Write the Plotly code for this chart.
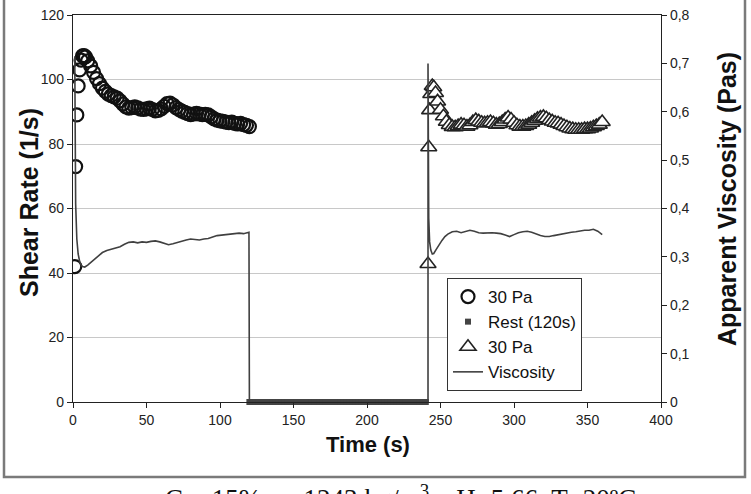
import plotly.graph_objects as go

# ---- data ----
circ_time = [1.2, 1.8, 2.6, 3.5, 4.5, 5.5, 6.5, 7.5, 8.5,
             10, 12, 14, 16, 18, 20, 22, 24, 26, 28,
             30, 32, 34, 36, 38, 40, 42, 44, 46, 48,
             50, 52, 54, 56, 58, 60, 62, 64, 66, 68,
             70, 72, 74, 76, 78, 80, 82, 84, 86, 88,
             90, 92, 94, 96, 98, 100, 102, 104, 106, 108,
             110, 112, 114, 116, 118, 120]
circ_rate = [42, 73, 89, 98, 103, 106, 107.3, 107.4, 107,
             105.8, 104.2, 102.2, 100.3, 98.7, 97.3, 96.3, 95.5, 95, 94.6,
             94.2, 93.4, 92.4, 91.5, 91.1, 91.3, 91.5, 91.2, 90.8, 90.7,
             90.9, 91.1, 90.7, 90.3, 90.4, 90.9, 91.7, 92.5, 92.7, 92.1,
             91.3, 90.7, 90.2, 89.8, 89.4, 89.1, 89.3, 89.5, 89.3, 89.1,
             89.2, 89.0, 88.4, 87.8, 87.4, 87.2, 87.0, 86.8, 86.6, 86.8,
             86.4, 86.2, 86.4, 86.0, 85.8, 85.4]

rest_time = list(range(120, 242, 2))
rest_rate = [0] * len(rest_time)

tri_time = [241.5, 242, 242.6, 243.4, 244.4, 245.4, 246.6, 248,
            250, 252, 254, 256, 258, 260, 262, 264, 266, 268,
            270, 272, 274, 276, 278, 280, 282, 284, 286, 288,
            290, 292, 294, 296, 298, 300, 302, 304, 306, 308,
            310, 312, 314, 316, 318, 320, 322, 324, 326, 328,
            330, 332, 334, 336, 338, 340, 342, 344, 346, 348,
            350, 352, 354, 356, 358, 360]
tri_rate = [42.8, 79, 90.5, 95.5, 98, 97.6, 95.8, 93.2,
            90.6, 88.6, 86.9, 85.9, 85.3, 85.2, 85.6, 86.0, 85.8, 85.4,
            85.8, 86.8, 87.4, 87.0, 86.6, 86.4, 86.6, 86.8, 86.4, 86.0,
            86.2, 86.8, 87.6, 88.2, 87.6, 86.6, 85.8, 85.4, 85.4, 85.6,
            86.0, 86.6, 87.2, 87.8, 88.2, 88.4, 88.0, 87.4, 87.0, 86.6,
            86.4, 86.0, 85.6, 85.2, 84.8, 84.6, 84.4, 84.4, 84.4, 84.6,
            84.6, 84.8, 85.2, 85.6, 86.0, 86.8]

visc_time = [1.2, 1.8, 2.6, 3.5, 4.5, 5.5, 6.5, 8, 10, 12, 14, 16, 18, 20,
             23, 26, 29, 32, 35, 38, 41, 44, 47, 50, 53, 56, 59, 62, 65, 68,
             71, 74, 77, 80, 83, 86, 89, 92, 95, 98, 101, 104, 107, 110, 113,
             116, 119.7, 120, 241.5,
             241.5, 242, 242.6, 243.4, 244.4, 245.4, 247, 249, 251, 253, 255,
             258, 261, 264, 267, 270, 273, 276, 279, 282, 285, 288, 291, 294,
             297, 300, 303, 306, 309, 312, 315, 318, 321, 324, 327, 330, 333,
             336, 339, 342, 345, 348, 351, 354, 357, 360]
visc_val = [0.714, 0.41, 0.337, 0.306, 0.291, 0.283, 0.280, 0.279, 0.283, 0.288,
            0.294, 0.299, 0.305, 0.309,
            0.313, 0.316, 0.318, 0.321, 0.326, 0.330, 0.331, 0.329, 0.331, 0.330,
            0.332, 0.333, 0.331, 0.328, 0.325, 0.327,
            0.330, 0.333, 0.335, 0.337, 0.336, 0.335, 0.337, 0.338, 0.341, 0.344,
            0.345, 0.346, 0.346, 0.347, 0.349,
            0.348, 0.351, 0.0, 0.0,
            0.70, 0.38, 0.331, 0.314, 0.306, 0.307, 0.315, 0.325, 0.334, 0.342, 0.347,
            0.352, 0.353, 0.350, 0.352, 0.355, 0.353, 0.350, 0.349, 0.350, 0.350,
            0.349, 0.348, 0.345,
            0.342, 0.346, 0.350, 0.352, 0.353, 0.351, 0.347, 0.344, 0.342, 0.342,
            0.344, 0.346, 0.347,
            0.349, 0.351, 0.352, 0.354, 0.355, 0.355, 0.357, 0.353, 0.346]

left_ticks = [0, 20, 40, 60, 80, 100, 120]
right_ticks = [0, 0.1, 0.2, 0.3, 0.4, 0.5, 0.6, 0.7, 0.8]
x_ticks = [0, 50, 100, 150, 200, 250, 300, 350, 400]

caption = "Cv=15%, ρ=1243 kg/m<sup>3</sup>, pH=5.66, T=20ºC"

# ---- figure ----
FONT = "Liberation Sans, Arial, sans-serif"
fig = go.Figure()

fig.add_trace(go.Scatter(
    x=circ_time, y=circ_rate, mode="markers", name="30 Pa",
    marker=dict(symbol="circle-open", size=13, color="#111111",
                line=dict(color="#111111", width=2.2))))
fig.add_trace(go.Scatter(
    x=rest_time, y=rest_rate, mode="markers", name="Rest (120s)",
    marker=dict(symbol="square", size=6, color="#444444",
                line=dict(width=0)), cliponaxis=False))
fig.add_trace(go.Scatter(
    x=tri_time, y=tri_rate, mode="markers", name="30 Pa",
    marker=dict(symbol="triangle-up", size=14, color="white",
                line=dict(color="#222222", width=1.6))))
fig.add_trace(go.Scatter(
    x=visc_time, y=visc_val, mode="lines", name="Viscosity", yaxis="y2",
    line=dict(color="#404040", width=1.6)))

W, H = 751, 494
L, R, T, B = 73, 661, 15, 402
pw, ph = R - L, B - T


def px(x):
    return (x - L) / pw


def py(y):
    return (B - y) / ph


fig.update_layout(
    width=W, height=H,
    margin=dict(l=L, r=W - R, t=T, b=H - B, autoexpand=False),
    paper_bgcolor="white", plot_bgcolor="white",
    separators=",.",
    showlegend=True,
    font=dict(family=FONT, color="#111111"),
    xaxis=dict(range=[0, 400], tickvals=x_ticks, ticks="outside", ticklen=5,
               tickcolor="#222222", showline=True, linecolor="#222222",
               linewidth=1.3, mirror=True, showgrid=False, zeroline=False,
               automargin=False,
               tickfont=dict(size=14, color="#222222")),
    yaxis=dict(range=[0, 120], tickvals=left_ticks, ticks="outside", ticklen=5,
               tickcolor="#222222", showline=True, linecolor="#222222",
               linewidth=1.3, showgrid=True, gridcolor="#c8c8c8", gridwidth=1,
               zeroline=False, automargin=False,
               tickfont=dict(size=14, color="#222222")),
    yaxis2=dict(range=[0, 0.8], tickvals=right_ticks, overlaying="y", side="right",
                ticks="outside", ticklen=5, tickcolor="#222222", showline=True,
                linecolor="#222222", linewidth=1.3, showgrid=False, zeroline=False,
                tickformat=".1~f", automargin=False,
                tickfont=dict(size=14, color="#222222")),
    legend=dict(x=px(447), y=py(278), xanchor="left", yanchor="top",
                bgcolor="white", bordercolor="#333333", borderwidth=1,
                font=dict(size=17, color="#111111"), tracegroupgap=0,
                itemwidth=30),
    shapes=[
        dict(type="line", xref="paper", yref="y", x0=0, x1=1, y0=20, y1=20,
             line=dict(color="#222222", width=1.2), layer="below"),
        dict(type="rect", xref="paper", yref="paper",
             x0=px(4), x1=px(745), y0=py(477), y1=py(-3),
             line=dict(color="#7a7a7a", width=2.5), layer="below"),
    ],
    annotations=[
        dict(text="<b>Time (s)</b>", xref="paper", yref="paper", x=px(368), y=py(444),
             xanchor="center", yanchor="middle", showarrow=False,
             font=dict(size=22, color="#111111")),
        dict(text="<b>Shear Rate (1/s)</b>", xref="paper", yref="paper", x=px(29), y=py(203),
             xanchor="center", yanchor="middle", showarrow=False, textangle=-90,
             font=dict(size=25, color="#111111")),
        dict(text="<b>Apparent Viscosity (Pas)</b>", xref="paper", yref="paper", x=px(727),
             y=py(199), xanchor="center", yanchor="middle", showarrow=False, textangle=-90,
             font=dict(size=25, color="#111111")),
        dict(text=caption, xref="paper", yref="paper", x=px(400), y=py(478),
             xanchor="center", yanchor="top", showarrow=False,
             font=dict(family="Liberation Serif, Times New Roman, serif", size=27,
                       color="#111111")),
    ],
)

fig.write_html("out.html")
